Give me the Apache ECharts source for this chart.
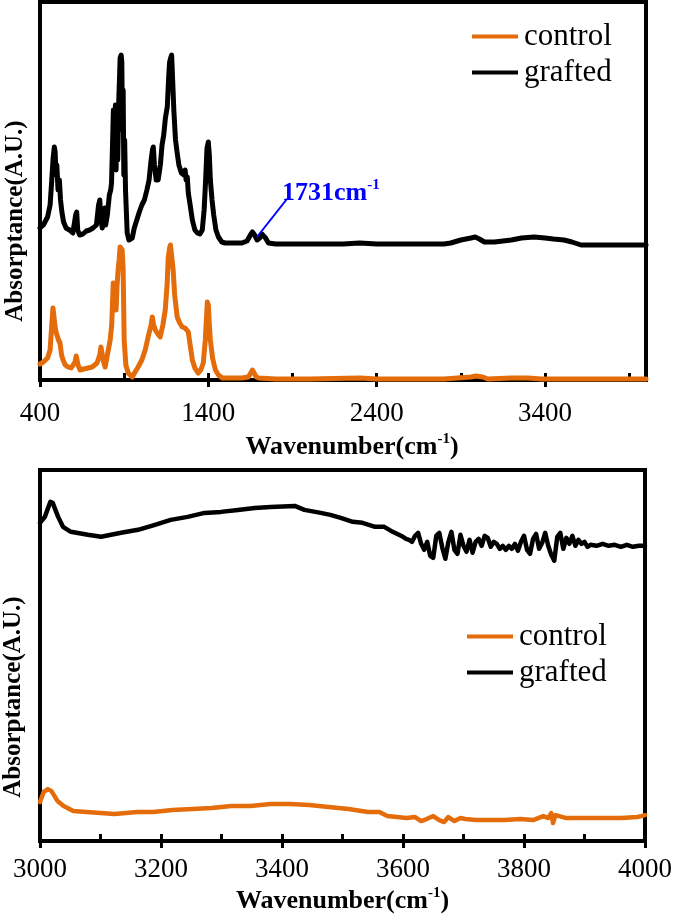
<!DOCTYPE html>
<html>
<head>
<meta charset="utf-8">
<script src="https://cdn.jsdelivr.net/npm/echarts@6/dist/echarts.min.js"></script>
<style>
html,body{margin:0;padding:0;background:#fff;}
#main{width:675px;height:915px;}
</style>
</head>
<body>
<div id="main"></div>
<script>
// ---------- DATA ----------
const seriesNames = ['control', 'grafted'];
const xTitleMain = 'Wavenumber(cm';
const xTitleSup = '-1';
const yTitle = 'Absorptance(A.U.)';
const annoMain = '1731cm';
const annoSup = '-1';

// Top panel (400-4000 cm-1)
const topTicks = { min: 400, max: 4000, major: 1000, minor: 500 };
const topGraftedX = [400,420,445,460,470,478,485,490,495,500,507,515,522,530,540,555,575,595,605,612,618,624,635,655,675,695,715,735,748,755,762,770,778,785,790,800,812,820,825,836,840,843,848,852,858,862,868,872,876,882,886,890,894,898,903,908,918,928,936,948,960,975,990,1005,1020,1035,1048,1060,1068,1073,1080,1090,1102,1115,1125,1135,1145,1156,1165,1170,1176,1182,1188,1195,1205,1215,1225,1240,1255,1262,1268,1275,1281,1292,1305,1320,1335,1350,1364,1375,1384,1392,1400,1406,1412,1422,1432,1445,1460,1480,1500,1560,1600,1630,1650,1662,1675,1690,1705,1718,1727,1740,1757,1800,2000,2200,2300,2400,2600,2800,2840,2900,2960,2985,3010,3040,3100,3150,3200,3260,3335,3400,3450,3513,3560,3614,3800,4000];
const topGraftedY = [152,155,163,175,200,222,233,228,205,215,190,200,180,168,158,152,150,147,148,165,168,150,145,146,149,150,152,155,175,180,160,152,150,172,155,165,185,190,197,270,265,215,275,210,270,220,280,300,322,325,318,250,290,205,240,190,147,140,138,142,152,160,168,175,180,190,200,220,230,233,215,200,200,215,235,245,262,273,305,318,322,325,300,270,240,227,215,207,205,210,200,203,187,175,160,150,147,146,150,170,200,232,238,225,200,180,165,150,143,138,137,137,137,139,145,148,145,140,142,146,147,142,137,136,136,136,137,136,136,136,137,140,142,143,141,138,138,139,140,142,143,142,141,140,138,135,135,135];
const topControlX = [400,420,445,460,470,477,482,488,495,501,510,519,528,537,550,567,585,596,608,615,620,626,638,660,686,710,739,755,762,769,775,787,800,817,826,835,840,846,852,858,864,870,876,882,888,894,900,910,924,948,965,983,1005,1025,1045,1060,1067,1075,1085,1100,1114,1130,1144,1155,1162,1170,1175,1180,1185,1191,1200,1215,1230,1245,1262,1270,1281,1292,1305,1320,1340,1355,1370,1382,1390,1394,1400,1406,1412,1425,1442,1460,1483,1520,1560,1600,1638,1652,1662,1672,1685,1700,1800,2000,2300,2400,2800,2960,2990,3030,3060,3200,3300,3380,3600,4000];
const topControlY = [16,18,22,30,55,72,65,55,48,50,40,37,25,20,15,13,12,13,18,24,24,15,10,11,12,13,17,25,33,33,20,13,25,40,55,97,95,97,70,95,110,120,133,135,130,110,40,15,7,3,8,13,20,30,45,55,63,55,50,46,43,55,70,95,123,132,135,134,133,110,85,63,57,53,52,50,48,35,20,12,7,10,17,40,65,78,75,55,40,22,10,5,2,2,2,2,3,7,10,8,3,2,1,1,2,1,1,3,4,3,1,2,2,1,1,1];

// Bottom panel (3000-4000 cm-1)
const botTicks = { min: 3000, max: 4000, major: 200, minor: 100 };
const botGraftedX = [3000,3008,3017,3021,3030,3038,3051,3079,3101,3134,3162,3190,3216,3244,3272,3299,3327,3355,3381,3421,3437,3464,3480,3497,3517,3533,3554,3569,3583,3600,3605,3610,3615,3620,3625,3630,3635,3640,3645,3650,3655,3660,3665,3670,3675,3680,3685,3690,3695,3700,3705,3710,3715,3720,3725,3730,3735,3740,3745,3750,3755,3760,3765,3770,3775,3780,3785,3790,3795,3800,3805,3810,3815,3820,3825,3830,3835,3840,3845,3850,3855,3860,3865,3870,3875,3880,3885,3890,3895,3900,3905,3910,3920,3930,3940,3950,3960,3970,3980,3990,4000];
const botGraftedY = [319,325,340,339,325,315,310,307,305,309,312,317,322,325,329,330,332,334,335,336,332,329,327,324,320,319,315,315,310,305,303,302,300,306,309,298,292,300,286,284,306,309,294,283,300,310,292,288,307,296,290,302,289,300,303,296,306,304,295,300,298,293,296,292,296,293,298,291,300,306,292,288,303,308,293,299,309,296,287,281,305,309,293,304,298,306,296,302,298,300,295,297,296,298,296,297,295,297,295,296,296];
const botControlX = [3000,3006,3013,3019,3029,3039,3055,3077,3100,3123,3161,3187,3219,3252,3284,3316,3348,3381,3413,3445,3477,3510,3542,3561,3574,3590,3606,3620,3630,3639,3650,3660,3668,3675,3685,3695,3703,3720,3740,3768,3794,3815,3832,3840,3845,3848,3852,3855,3870,3897,3930,3961,3987,3994,4000];
const botControlY = [39,49,52,50,40,35,30,29,28,27,29,29,31,32,33,35,35,37,37,36,34,32,29,29,25,24,23,24,20,22,25,21,19,24,20,23,22,21,21,21,22,21,25,23,28,18,26,24,23,23,23,23,24,25,26];

// Annotation (data coords of the top panel)
const annoArrowFrom = [1689, 143];
const annoArrowTo = [1867, 181];
const annoLabelAt = [1838, 187];

// ---------- STYLE ----------
const FONT = "'Liberation Serif','Times New Roman',serif";
const ORANGE = '#E46C0A';
const BLACK = '#000000';
const BLUE = '#0000FF';

function zip(xs, ys) { return xs.map((x, i) => [x, ys[i]]); }

const nameRich = {
  b: { fontFamily: FONT, fontSize: 26, fontWeight: 'bold', color: '#000', lineHeight: 30 },
  s: { fontFamily: FONT, fontSize: 15, fontWeight: 'bold', color: '#000', lineHeight: 16, verticalAlign: 'top' }
};

function mainX(grid, t, gap, margin, showMax, pad) {
  return {
    type: 'value', gridIndex: grid, position: 'bottom', min: t.min, max: t.max, interval: t.major,
    axisLine: { show: true, onZero: false, lineStyle: { color: '#000', width: 4 } },
    axisTick: { show: true, inside: false, length: 7, lineStyle: { color: '#000', width: 3 } },
    axisLabel: { show: true, margin: margin, fontFamily: FONT, fontSize: 27, color: '#000',
      showMaxLabel: showMax, showMinLabel: true, formatter: function (v) { return String(v); } },
    splitLine: { show: false },
    name: '{b|' + xTitleMain + '}{s|' + xTitleSup + '}{b|)}',
    nameLocation: 'middle', nameGap: gap,
    nameTextStyle: { rich: nameRich, padding: pad }
  };
}
function innerX(grid, t) {
  return {
    type: 'value', gridIndex: grid, position: 'bottom', min: t.min, max: t.max, interval: t.minor,
    axisLine: { show: false, onZero: false },
    axisTick: { show: true, inside: true, length: 7, lineStyle: { color: '#000', width: 3 } },
    axisLabel: { show: false },
    splitLine: { show: false }
  };
}
function plainY(grid, min, max) {
  return {
    type: 'value', gridIndex: grid, min: min, max: max,
    axisLine: { show: false }, axisTick: { show: false }, axisLabel: { show: false }, splitLine: { show: false }
  };
}
function lineSeries(name, xi, yi, data, color, width, extra) {
  return Object.assign({
    type: 'line', name: name, xAxisIndex: xi, yAxisIndex: yi, data: data,
    showSymbol: false, symbol: 'none', smooth: false,
    lineStyle: { color: color, width: width, join: 'round', cap: 'round' },
    itemStyle: { color: color }
  }, extra || {});
}
function legendAt(left, top) {
  return {
    orient: 'vertical', left: left, top: top, data: seriesNames,
    icon: 'rect', itemWidth: 46, itemHeight: 4, itemGap: 5, padding: 0,
    textStyle: { fontFamily: FONT, fontSize: 31, color: '#000', padding: [0, 0, 0, 1] },
    selectedMode: false
  };
}

const chart = echarts.init(document.getElementById('main'), null, { renderer: 'canvas' });
chart.setOption({
  animation: false,
  backgroundColor: '#fff',
  grid: [
    { left: 40, top: 2, width: 606, height: 378, show: true, borderColor: '#000', borderWidth: 4, backgroundColor: 'transparent' },
    { left: 40, top: 470, width: 606, height: 372, show: true, borderColor: '#000', borderWidth: 4, backgroundColor: 'transparent' }
  ],
  xAxis: [
    mainX(0, topTicks, 52, 20, false, [0, 0, 0, 18]),
    innerX(0, topTicks),
    mainX(1, botTicks, 45, 15, true, [0, 0, 0, 0]),
    innerX(1, botTicks)
  ],
  yAxis: [plainY(0, 0, 378), plainY(1, 0, 372)],
  legend: [legendAt(472, 21), legendAt(467, 621)],
  series: [
    lineSeries(seriesNames[1], 0, 0, zip(topGraftedX, topGraftedY), BLACK, 5, {
      markLine: {
        silent: true, symbol: ['none', 'arrow'], symbolSize: [0, 11],
        lineStyle: { color: BLUE, width: 2, type: 'solid' },
        label: { show: false },
        data: [[{ coord: annoArrowFrom }, { coord: annoArrowTo }]]
      },
      markPoint: {
        silent: true, symbol: 'circle', symbolSize: 0,
        data: [{ coord: annoLabelAt }],
        label: {
          show: true, position: 'right', distance: 0,
          formatter: '{a|' + annoMain + '}{s|' + annoSup + '}',
          rich: {
            a: { fontFamily: FONT, fontSize: 26, fontWeight: 'bold', color: BLUE, lineHeight: 30 },
            s: { fontFamily: FONT, fontSize: 15, fontWeight: 'bold', color: BLUE, lineHeight: 16, verticalAlign: 'top' }
          }
        }
      }
    }),
    lineSeries(seriesNames[0], 0, 0, zip(topControlX, topControlY), ORANGE, 5),
    lineSeries(seriesNames[1], 2, 1, zip(botGraftedX, botGraftedY), BLACK, 4.5),
    lineSeries(seriesNames[0], 2, 1, zip(botControlX, botControlY), ORANGE, 4.5)
  ],
  graphic: [
    { type: 'text', x: 16, y: 221, rotation: Math.PI / 2,
      style: { text: yTitle, fontFamily: FONT, fontSize: 25, fontWeight: 'bold', fill: '#000', align: 'center', verticalAlign: 'middle' } },
    { type: 'text', x: 14, y: 697, rotation: Math.PI / 2,
      style: { text: yTitle, fontFamily: FONT, fontSize: 25, fontWeight: 'bold', fill: '#000', align: 'center', verticalAlign: 'middle' } }
  ]
});
</script>
</body>
</html>
